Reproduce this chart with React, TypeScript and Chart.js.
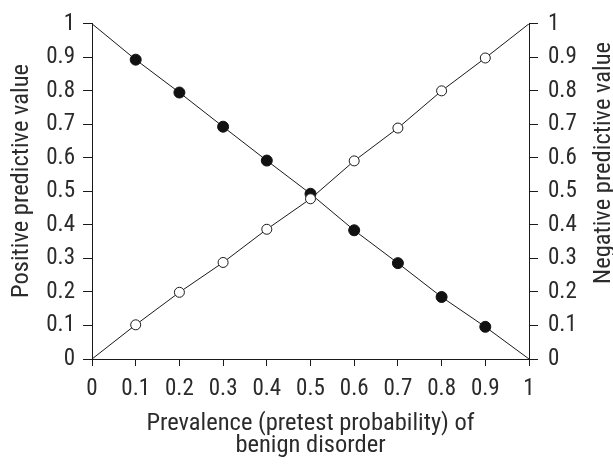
import React, { useEffect, useRef } from "react";
import { Chart, registerables } from "chart.js";

Chart.register(...registerables);

const prevalence = [0, 0.1, 0.2, 0.3, 0.4, 0.5, 0.6, 0.7, 0.8, 0.9, 1];
const negativePV = [0, 0.102, 0.199, 0.288, 0.387, 0.478, 0.591, 0.689, 0.8, 0.898, 1];
const positivePV = [1, 0.893, 0.795, 0.693, 0.592, 0.493, 0.384, 0.286, 0.185, 0.096, 0];
const xTitle = ["Prevalence (pretest probability) of", "benign disorder"];
const leftTitle = "Positive predictive value";
const rightTitle = "Negative predictive value";

const FONT = "'Roboto Condensed', 'Liberation Sans Narrow', sans-serif";
const TEXT = "#2b2b2b";
const LINE = "#1a1a1a";
const TICK_SIZE = 23;
const TITLE_SIZE = 24.5;

const radii = prevalence.map((p) => (p === 0 || p === 1 ? 0 : 5));

const yTitlesPlugin = {
  id: "yTitles",
  afterDraw(chart: any) {
    const ctx = chart.ctx;
    const draw = (text: string, x: number, y: number) => {
      ctx.save();
      ctx.fillStyle = TEXT;
      ctx.font = `${TITLE_SIZE}px ${FONT}`;
      ctx.textAlign = "center";
      ctx.textBaseline = "alphabetic";
      ctx.translate(x, y);
      ctx.rotate(-Math.PI / 2);
      ctx.fillText(text, 0, 0);
      ctx.restore();
    };
    draw(leftTitle, 28, 181);
    draw(rightTitle, 610, 163);
  },
};

const tickCb = (v: any) => String(Math.round(Number(v) * 10) / 10);

export default function App() {
  const ref = useRef<HTMLCanvasElement>(null);
  useEffect(() => {
    if (!ref.current) return;
    const chart = new Chart(ref.current, {
      type: "line",
      data: {
        datasets: [
          {
            label: "Negative predictive value",
            data: prevalence.map((x, i) => ({ x, y: negativePV[i] })),
            borderColor: LINE,
            borderWidth: 1,
            pointRadius: radii,
            pointBackgroundColor: "#ffffff",
            pointBorderColor: LINE,
            pointBorderWidth: 1,
            tension: 0,
          },
          {
            label: "Positive predictive value",
            data: prevalence.map((x, i) => ({ x, y: positivePV[i] })),
            borderColor: LINE,
            borderWidth: 1,
            pointRadius: radii.map((r) => (r ? r + 0.5 : 0)),
            pointBackgroundColor: "#111111",
            pointBorderColor: "#111111",
            pointBorderWidth: 1,
            tension: 0,
          },
        ],
      },
      options: {
        responsive: false,
        animation: false,
        layout: { padding: { top: 21, right: 0, bottom: 0, left: 0 } },
        plugins: { legend: { display: false }, tooltip: { enabled: false } },
        scales: {
          x: {
            type: "linear",
            min: 0,
            max: 1,
            afterFit: (s: any) => {
              s.height = 106;
            },
            afterBuildTicks: (s: any) => {
              s.ticks = prevalence.map((v) => ({ value: v }));
            },
            ticks: {
              color: TEXT,
              font: { family: FONT, size: TICK_SIZE },
              padding: 9,
              maxRotation: 0,
              autoSkip: false,
              callback: tickCb,
            },
            grid: { drawOnChartArea: false, drawTicks: true, tickLength: 7, color: LINE },
            border: { display: true, color: LINE, width: 1 },
            title: {
              display: true,
              text: xTitle,
              color: TEXT,
              font: { family: FONT, size: TITLE_SIZE, lineHeight: "22px" },
              padding: { top: 0, bottom: 8.5 },
            },
          },
          y: {
            type: "linear",
            position: "left",
            min: 0,
            max: 1,
            afterFit: (s: any) => {
              s.width = 92;
            },
            afterBuildTicks: (s: any) => {
              s.ticks = prevalence.map((v) => ({ value: v }));
            },
            ticks: {
              color: TEXT,
              font: { family: FONT, size: TICK_SIZE },
              padding: 8,
              autoSkip: false,
              callback: tickCb,
            },
            grid: { drawOnChartArea: false, drawTicks: true, tickLength: 9, color: LINE },
            border: { display: true, color: LINE, width: 1 },
          },
          y2: {
            type: "linear",
            position: "right",
            min: 0,
            max: 1,
            afterFit: (s: any) => {
              s.width = 84;
            },
            afterBuildTicks: (s: any) => {
              s.ticks = prevalence.map((v) => ({ value: v }));
            },
            ticks: {
              color: TEXT,
              font: { family: FONT, size: TICK_SIZE },
              padding: 10,
              autoSkip: false,
              callback: tickCb,
            },
            grid: { drawOnChartArea: false, drawTicks: true, tickLength: 9, color: LINE },
            border: { display: true, color: LINE, width: 1 },
          },
        },
      },
      plugins: [yTitlesPlugin],
    });
    return () => chart.destroy();
  }, []);
  return (
    <div style={{ position: "absolute", left: 0, top: 0, width: 613, height: 465, background: "#fff" }}>
      <canvas ref={ref} width={613} height={465} style={{ display: "block" }} />
    </div>
  );
}
